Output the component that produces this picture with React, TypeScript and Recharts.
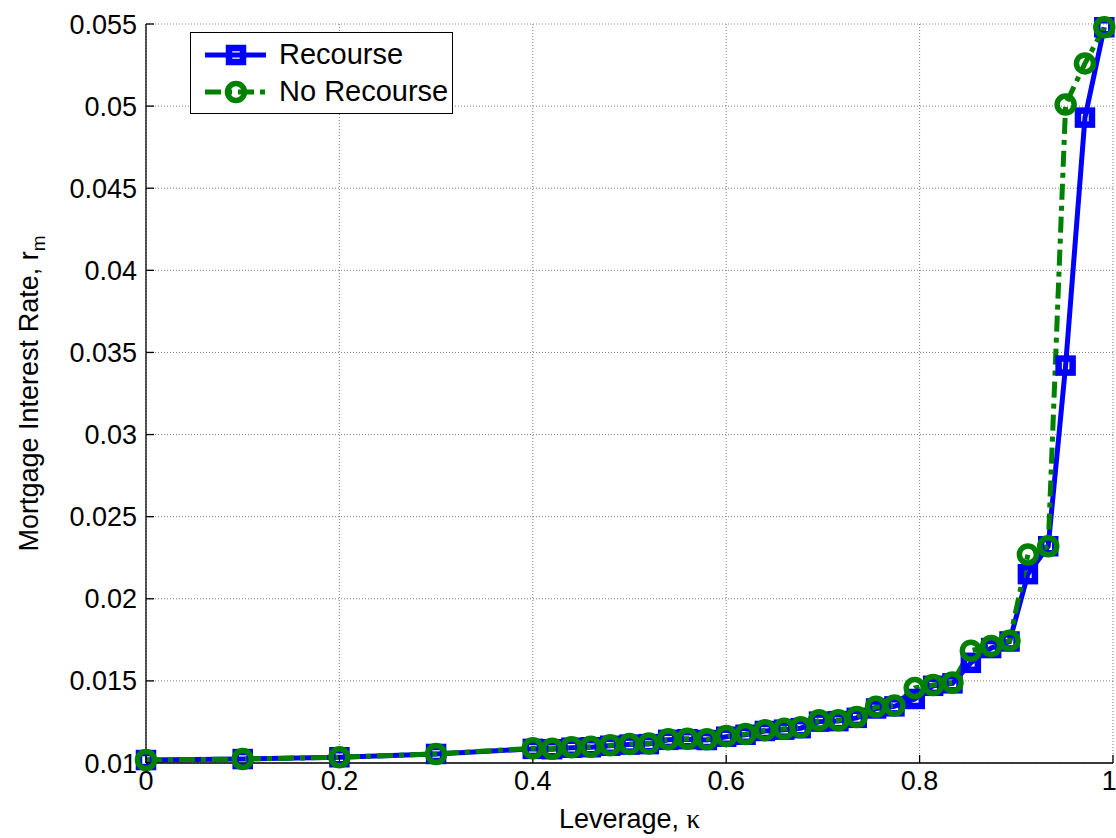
import React from 'react';
import { LineChart, Line, XAxis, YAxis, CartesianGrid, Legend } from 'recharts';

const kappa = [
  0, 0.1, 0.2, 0.3, 0.4, 0.42, 0.44, 0.46, 0.48, 0.5, 0.52, 0.54, 0.56, 0.58, 0.6, 0.62, 0.64, 0.66,
  0.677, 0.696, 0.716, 0.735, 0.755, 0.774, 0.795, 0.814, 0.834, 0.853, 0.874, 0.893, 0.912, 0.933,
  0.951, 0.971, 0.991,
];
const recourse = [
  0.01018, 0.01024, 0.01035, 0.01055, 0.01086, 0.01084, 0.01093, 0.01096, 0.01105, 0.01112, 0.01115,
  0.01141, 0.01145, 0.0114, 0.0116, 0.01172, 0.01195, 0.01203, 0.01212, 0.01252, 0.01255, 0.01275,
  0.01332, 0.01345, 0.0139, 0.0147, 0.01485, 0.0161, 0.017, 0.0174, 0.0215, 0.0232, 0.0342, 0.0493,
  0.0548,
];
const noRecourse = [
  0.01018, 0.01024, 0.01035, 0.01055, 0.0109, 0.01087, 0.01096, 0.01099, 0.01108, 0.01116, 0.01118,
  0.01145, 0.01148, 0.01145, 0.01164, 0.01177, 0.012, 0.01208, 0.01217, 0.0126, 0.0126, 0.0128,
  0.01343, 0.0135, 0.01457, 0.01475, 0.0149, 0.01684, 0.01712, 0.01745, 0.0227, 0.0232, 0.0501,
  0.0526, 0.0548,
];
const xTicks = [0, 0.2, 0.4, 0.6, 0.8, 1];
const yTicks = [0.01, 0.015, 0.02, 0.025, 0.03, 0.035, 0.04, 0.045, 0.05, 0.055];

const data = kappa.map((k, i) => ({ k, recourse: recourse[i], noRecourse: noRecourse[i] }));

const FONT = '"Liberation Sans", Arial, sans-serif';
const BLUE = '#0000FF';
const GREEN = '#008000';
const DASH = '16 6 5 6';

const squareDot = (p: any) => (
  <rect key={`sq-${p.index}`} x={p.cx - 7} y={p.cy - 7} width={14} height={14} fill="none" stroke={BLUE} strokeWidth={6.5} />
);
const circleDot = (p: any) => (
  <circle key={`ci-${p.index}`} cx={p.cx} cy={p.cy} r={8.5} fill="none" stroke={GREEN} strokeWidth={5.5} />
);

const YLabel = (props: any) => {
  const vb = props.viewBox;
  const cx = vb.x + 38;
  const cy = vb.y + vb.height / 2;
  return (
    <text x={cx} y={cy} transform={`rotate(-90, ${cx}, ${cy})`} textAnchor="middle" fontFamily={FONT} fontSize={27} fill="#000">
      Mortgage Interest Rate, r<tspan fontSize={19} dy={7}>m</tspan>
    </text>
  );
};

const XLabel = (props: any) => {
  const vb = props.viewBox;
  return (
    <text x={vb.x + vb.width / 2} y={vb.y + 65} textAnchor="middle" fontFamily={FONT} fontSize={27} fill="#000">
      Leverage, <tspan fontFamily='"Liberation Serif", "Times New Roman", serif'>κ</tspan>
    </text>
  );
};

const LegendBox = () => (
  <div style={{ width: 261, height: 80, border: '1px solid #000', background: '#fff', fontFamily: FONT, fontSize: 29 }}>
    {[
      { name: 'Recourse', color: BLUE, dash: undefined, marker: 'square' },
      { name: 'No Recourse', color: GREEN, dash: DASH, marker: 'circle' },
    ].map((e, i) => (
      <div key={e.name} style={{ display: 'flex', alignItems: 'center', height: 37, marginTop: i === 0 ? 3 : 0 }}>
        <svg width={80} height={30} style={{ marginLeft: 12 }}>
          <line x1={2} y1={15} x2={63} y2={15} stroke={e.color} strokeWidth={5} strokeDasharray={e.dash} />
          {e.marker === 'square' ? (
            <rect x={26} y={8} width={14} height={14} fill="none" stroke={e.color} strokeWidth={6.5} />
          ) : (
            <circle cx={33} cy={15} r={8.5} fill="none" stroke={e.color} strokeWidth={5.5} />
          )}
        </svg>
        <span style={{ marginLeft: -4 }}>{e.name}</span>
      </div>
    ))}
  </div>
);

const tickStyle = { fontFamily: FONT, fontSize: 27, fill: '#000' };
const fmt = (v: number) => String(Number(v.toFixed(3)));

export default function App() {
  return (
    <div style={{ position: 'absolute', left: 0, top: 0, background: '#fff' }}>
      <LineChart width={1116} height={838} data={data} margin={{ top: 24, right: 3, bottom: 0, left: 0 }}>
        <CartesianGrid stroke="#808080" strokeDasharray="1 2" />
        <XAxis
          dataKey="k"
          type="number"
          domain={[0, 1]}
          ticks={xTicks}
          tickFormatter={fmt}
          height={75}
          tickSize={-8}
          tickMargin={16}
          tick={tickStyle}
          axisLine={{ stroke: '#000', strokeWidth: 1.3 }}
          tickLine={{ stroke: '#000', strokeWidth: 1.3 }}
          label={{ content: XLabel }}
        />
        <XAxis
          xAxisId="top"
          orientation="top"
          dataKey="k"
          type="number"
          domain={[0, 1]}
          ticks={xTicks}
          height={0}
          tickSize={-8}
          tick={() => <g />}
          axisLine={{ stroke: '#000', strokeWidth: 1.3 }}
          tickLine={{ stroke: '#000', strokeWidth: 1.3 }}
        />
        <YAxis
          type="number"
          domain={[0.01, 0.055]}
          ticks={yTicks}
          tickFormatter={fmt}
          width={146}
          tickSize={-8}
          tickMargin={17}
          tick={tickStyle}
          axisLine={{ stroke: '#000', strokeWidth: 1.3 }}
          tickLine={{ stroke: '#000', strokeWidth: 1.3 }}
          label={{ content: YLabel }}
        />
        <YAxis
          yAxisId="right"
          orientation="right"
          type="number"
          domain={[0.01, 0.055]}
          ticks={yTicks}
          width={0}
          tickSize={-8}
          tick={() => <g />}
          axisLine={{ stroke: '#000', strokeWidth: 1.3 }}
          tickLine={{ stroke: '#000', strokeWidth: 1.3 }}
        />
        <Line
          dataKey="recourse"
          name="Recourse"
          stroke={BLUE}
          strokeWidth={5}
          dot={squareDot}
          activeDot={false}
          isAnimationActive={false}
        />
        <Line
          dataKey="noRecourse"
          name="No Recourse"
          stroke={GREEN}
          strokeWidth={5}
          strokeDasharray={DASH}
          dot={circleDot}
          activeDot={false}
          isAnimationActive={false}
        />
        <Legend
          layout="vertical"
          align="center"
          verticalAlign="middle"
          wrapperStyle={{ left: 190, top: 32, width: 263, height: 82 }}
          content={LegendBox}
        />
      </LineChart>
    </div>
  );
}
